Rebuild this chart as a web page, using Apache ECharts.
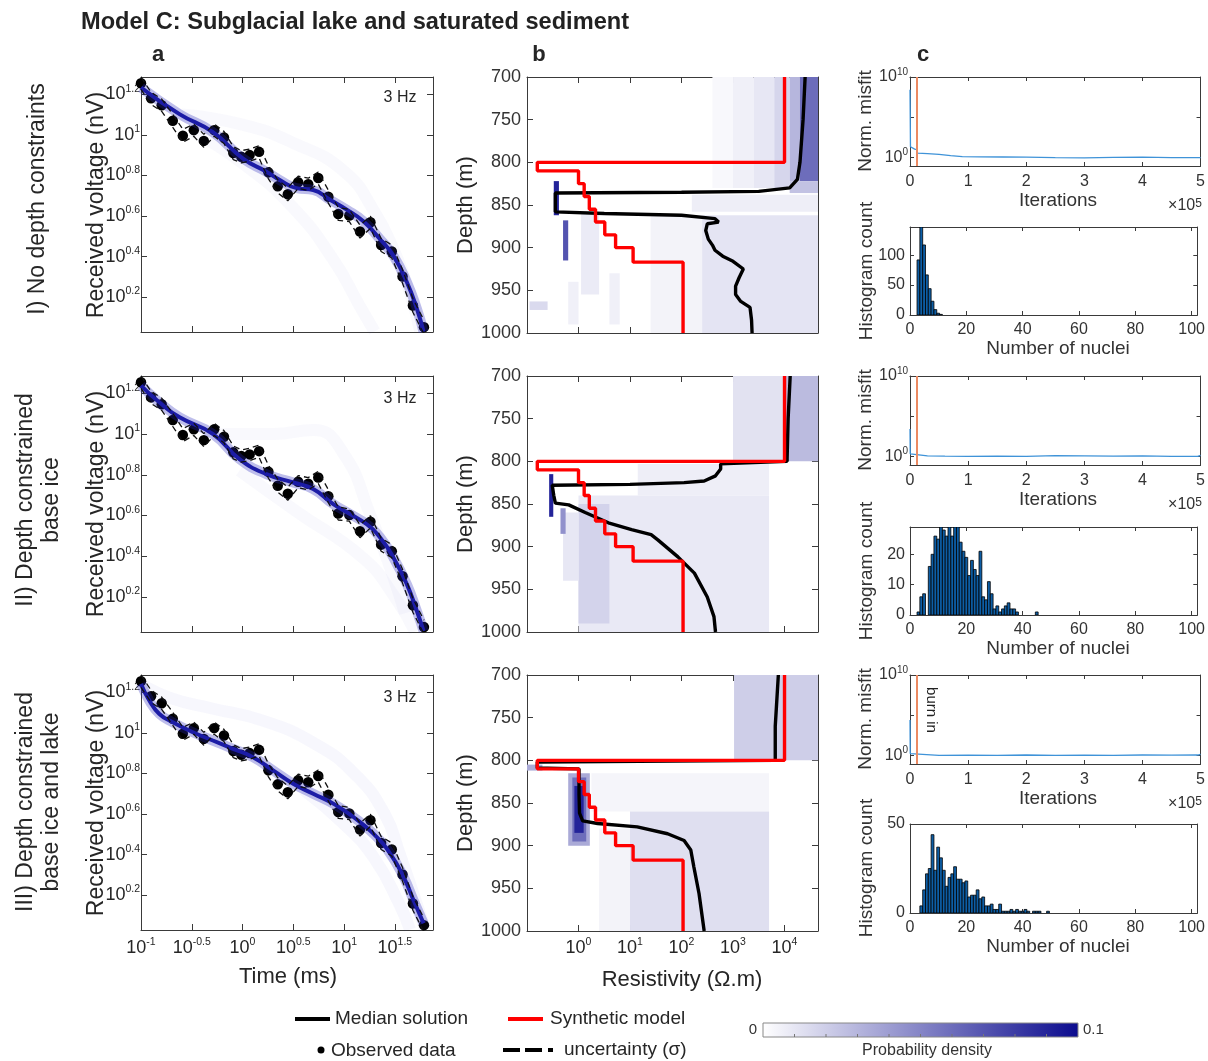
<!DOCTYPE html>
<html><head><meta charset="utf-8">
<script src="https://cdn.jsdelivr.net/npm/echarts@6/dist/echarts.min.js"></script>
<style>html,body{margin:0;padding:0;background:#fff}#c{width:1208px;height:1061px}</style>
</head><body><div id="c"></div>
<script>
// ---------------- DATA ----------------
// Column a: observed data (log10 time [ms], log10 voltage [nV]) – same in all rows
const obsLogT = [-1.0,-0.901,-0.796,-0.687,-0.588,-0.480,-0.381,-0.279,-0.183,-0.091,-0.012,0.070,0.163,0.255,0.347,0.446,0.548,0.647,0.746,0.845,0.943,1.052,1.157,1.260,1.365,1.470,1.576,1.678,1.787];
const obsLogV = [1.254,1.180,1.146,1.069,0.995,1.023,0.970,1.023,0.987,0.910,0.892,0.900,0.916,0.815,0.746,0.707,0.766,0.756,0.787,0.695,0.610,0.602,0.523,0.569,0.457,0.425,0.302,0.159,0.052];
const obsSigma = [0.030,0.030,0.030,0.032,0.032,0.030,0.032,0.030,0.030,0.032,0.030,0.030,0.030,0.032,0.032,0.032,0.030,0.030,0.030,0.032,0.032,0.030,0.032,0.030,0.032,0.032,0.034,0.034,0.034];
// posterior median predicted curves (log10 t, log10 V)
const predI   = [[-1.0,1.233],[-0.621,1.102],[-0.292,1.013],[0.005,0.883],[0.235,0.818],[0.367,0.777],[0.532,0.737],[0.696,0.728],[0.861,0.680],[1.026,0.631],[1.190,0.574],[1.355,0.485],[1.487,0.403],[1.619,0.273],[1.717,0.143],[1.783,0.029]];
const predII  = [[-1.0,1.238],[-0.82,1.156],[-0.62,1.082],[-0.29,1.0],[-0.03,0.877],[0.235,0.803],[0.5,0.762],[0.696,0.73],[0.894,0.656],[1.059,0.607],[1.223,0.557],[1.355,0.492],[1.487,0.393],[1.619,0.262],[1.717,0.131],[1.783,0.033]];
const predIII = [[-1.0,1.241],[-0.918,1.159],[-0.819,1.093],[-0.687,1.052],[-0.489,1.003],[-0.292,0.962],[-0.094,0.921],[0.103,0.880],[0.301,0.815],[0.499,0.749],[0.696,0.700],[0.894,0.651],[1.092,0.585],[1.289,0.503],[1.454,0.405],[1.586,0.290],[1.684,0.175],[1.783,0.061]];
// faint posterior sample curves
const fanI   = [[[-0.6,1.10],[0,1.05],[0.5,0.96],[1.0,0.82],[1.3,0.62],[1.5,0.42],[1.65,0.22],[1.75,0.03]],
                [[-0.5,1.02],[0,0.86],[0.5,0.64],[0.9,0.38],[1.15,0.16],[1.3,0.03]]];
const fanII  = [[[-0.3,1.0],[0.3,1.0],[0.7,1.02],[1.0,0.9],[1.26,0.6],[1.45,0.35],[1.6,0.12]],
                [[-0.03,0.82],[0.53,0.62],[1.19,0.39],[1.5,0.2],[1.7,0.03]]];
const fanIII = [[[-1,1.24],[-0.7,1.17],[-0.3,1.12],[0.2,1.06],[0.7,0.95],[1.1,0.8],[1.4,0.6],[1.55,0.4],[1.7,0.18],[1.8,0.03]],
                [[0.6,0.72],[1.0,0.55],[1.3,0.38],[1.55,0.15],[1.65,0.03]]];

// Column b: synthetic model layers (top depth m, log10 resistivity)
const synthTop    = [700, 800, 810, 825, 840, 855, 870, 885, 900, 917];
const synthLogRes = [4.0, -0.8, 0.0, 0.11, 0.21, 0.33, 0.51, 0.72, 1.06, 2.03];
// median solutions (log10 resistivity, depth)
const medianI = [[4.40,700],[4.36,750],[4.30,800],[4.25,820],[4.10,830],[3.5,834],[2.0,835],[-0.45,836],[-0.45,858],[0.5,860],[2.0,862],[2.65,866],[2.72,870],[2.50,872],[2.47,880],[2.52,890],[2.60,897],[2.65,903],[2.80,910],[3.00,916],[3.20,925],[3.12,935],[3.05,945],[3.05,955],[3.15,963],[3.33,970],[3.36,985],[3.37,1000]];
const medianII = [[4.11,700],[4.07,750],[4.05,797],[4.05,800],[2.76,803],[2.76,809],[2.66,817],[2.44,823],[2.05,825],[1.0,827],[-0.51,828],[-0.48,840],[-0.45,849],[-0.19,851],[0.13,860],[0.58,872],[1.03,880],[1.41,886],[1.54,892],[1.93,912],[2.25,931],[2.50,959],[2.63,982],[2.66,1000]];
const medianIII = [[3.88,700],[3.85,730],[3.82,760],[3.82,800],[-0.8,802],[-0.8,809],[0.01,810],[0.01,840],[0.02,862],[0.08,871],[0.37,874],[1.14,878],[1.73,886],[2.05,894],[2.18,905],[2.24,925],[2.34,956],[2.44,1000]];
// posterior probability density cells [logRes0, logRes1, depth0, depth1, density]
const densI = [
  [2.6,3.0,700,830,0.003],[3.0,3.4,700,830,0.006],[3.4,3.8,700,830,0.010],[3.8,4.1,700,830,0.017],[4.1,4.3,700,822,0.03],[4.3,4.65,700,822,0.06],[4.1,4.65,822,836,0.025],
  [2.2,4.65,838,858,0.007],[1.4,2.4,862,1000,0.005],[2.4,4.65,862,1000,0.011],
  [0.05,0.4,860,955,0.008],[0.6,0.8,930,990,0.006],[-0.2,0.0,940,990,0.006],[-0.95,-0.6,963,973,0.015],
  [-0.3,-0.2,868,915,0.07],[-0.48,-0.38,822,862,0.09]];
const densII = [
  [3.0,4.0,700,800,0.012],[4.0,4.65,700,800,0.028],[1.15,3.7,803,840,0.007],[0.0,3.7,840,1000,0.009],
  [0.0,0.6,850,990,0.018],[-0.3,0.0,860,940,0.01],[-0.35,-0.25,855,885,0.045],[-0.57,-0.49,815,865,0.09]];
const densIII = [
  [3.02,4.65,700,800,0.02],[-1.0,-0.7,805,812,0.035],[0.25,3.7,815,860,0.004],[0.4,1.0,880,1000,0.005],[1.0,3.7,860,1000,0.013],
  [-0.2,0.22,815,900,0.035],[-0.12,0.15,820,895,0.06],[-0.08,0.1,830,885,0.09]];

// Column c: misfit traces (iterations x1e5, log10 normalised misfit)
const itI   = [0,0.004,0.008,0.03,0.08,0.12,0.13,0.3,0.5,0.7,0.9,1.2,1.6,2.0,2.5,3.0,3.5,4.0,4.5,5.0];
const lmI   = [8.4,4.9,1.3,1.2,1.0,0.95,0.5,0.45,0.35,0.2,0.08,0.05,0.02,0.0,-0.05,-0.08,-0.03,0.0,-0.05,-0.05];
const itII  = [0,0.004,0.01,0.3,0.6,1.0,1.5,2.0,2.5,3.0,3.5,4.0,4.5,4.95,5.0];
const lmII  = [3.4,0.3,0.15,0.05,0.0,-0.03,0.0,-0.03,0.08,0.04,0.0,0.05,-0.02,-0.03,0.1];
const itIII = [0,0.004,0.01,0.5,1.0,1.5,2.0,2.5,3.0,3.5,4.0,4.5,4.95,5.0];
const lmIII = [4.4,0.2,0.05,-0.03,0.0,-0.02,0.02,-0.02,0.0,-0.03,0.02,0.0,0.02,0.1];
const burnIn = 0.12;
// histograms of number of nuclei
const binsI   = [3,4,5,6,7,8,9,10,11];
const countsI = [92,147,117,67,44,23,9,3,1];
const binsII   = [3,4,5,6,7,8,9,10,11,12,13,14,15,16,17,18,19,20,21,22,23,24,25,26,27,28,29,30,31,32,33,34,35,36,37,38,45];
const countsII = [1,6,7,0,16,20,26,25,29,28,26,29,26,29,29,24,21,19,13,18,15,13,21,6,5,11,7,2,3,1,2,3,4,2,2,1,1];
const binsIII   = [4,5,6,7,8,9,10,11,12,13,14,15,16,17,18,19,20,21,22,23,24,25,26,27,28,29,30,31,32,33,34,35,36,37,38,39,40,41,42,44,45,46,49];
const countsIII = [4,13,22,25,44,24,37,31,24,15,20,22,26,19,19,17,18,9,10,10,13,8,9,4,4,5,2,2,5,1,1,1,2,1,2,1,1,2,1,1,1,1,1];

// tick values
const tTicks = [-1,-0.5,0,0.5,1,1.5];
const vTicks = [0.2,0.4,0.6,0.8,1.0,1.2];
const rTicks = [0,1,2,3,4];
const dTicks = [700,750,800,850,900,950,1000];
const itTicks = [0,1,2,3,4,5];
const nTicks = [0,20,40,60,80,100];

// ---------------- LAYOUT / STYLE ----------------
const FONT = '"Liberation Sans", Arial, Helvetica, sans-serif';
const INK = '#262626';
const AX = '#3a3a3a';
const boxes = [
  [141,77,292,255],[141,376,292,256],[141,675,292,255],
  [527,77,291,256],[527,376,291,256],[527,675,291,256],
  [910,77,293,89],[910,227,293,88],
  [910,376,293,89],[910,527,293,88],
  [910,675,293,89],[910,824,293,89]
];
const grid = boxes.map(b => ({left:b[0], top:b[1], width:b[2], height:b[3], containLabel:false}));

function expStr(v){ const e = Math.round(v*10)/10; return String(e); }
function supRich(fs, sfs){
  return { b:{fontSize:fs, fontFamily:FONT, color:INK, padding:[2,0,2,0]},
           s:{fontSize:sfs, fontFamily:FONT, color:INK, verticalAlign:'top'} };
}
const supFmt = v => '{b|10}{s|' + expStr(v) + '}';

const xAxes = [], yAxes = [];
function addAxes(list, kind, gi, c){
  const base = {type:'value', gridIndex:gi, min:c.min, max:c.max, inverse:!!c.inverse,
    axisLine:{show:true, onZero:false, lineStyle:{color:AX, width:1}},
    axisTick:{show:true, inside:true, length:c.tl||5, customValues:c.ticks, lineStyle:{color:AX, width:1}},
    splitLine:{show:false}};
  const main = Object.assign({}, base, {position: kind==='x'?'bottom':'left',
    axisLabel:{show:!!c.show, customValues:c.labels||c.ticks, formatter:c.fmt||(v=>String(v)), margin:c.margin||4,
      fontSize:c.fs||16, color:c.color||INK, fontFamily:FONT, rich:c.rich}});
  const sec = Object.assign({}, base, {position: kind==='x'?'top':'right', axisLabel:{show:false}});
  list.push(main, sec);
}
// column a
for (let r=0;r<3;r++){
  addAxes(xAxes,'x',r,{min:-1,max:1.876,ticks:tTicks,show:r===2,fmt:supFmt,rich:supRich(18,10.5),margin:7,tl:6});
  addAxes(yAxes,'y',r,{min:0.028,max:1.285,ticks:vTicks,show:true,fmt:supFmt,rich:supRich(18,10.5),margin:1,tl:6});
}
// column b
for (let r=0;r<3;r++){
  addAxes(xAxes,'x',3+r,{min:-1,max:4.65,ticks:rTicks,show:r===2,fmt:supFmt,rich:supRich(18,10.5),margin:6,tl:6});
  addAxes(yAxes,'y',3+r,{min:700,max:1000,inverse:true,ticks:dTicks,show:true,fs:18,margin:6,tl:6,color:'#333'});
}
// column c
const histMax = [147,29,50], histTicks=[[0,50,100],[0,10,20],[0,50]];
for (let r=0;r<3;r++){
  const gm = 6+2*r, gh = 7+2*r;
  addAxes(xAxes,'x',gm,{min:0,max:5,ticks:itTicks,show:true,fs:16,margin:8,tl:4,color:'#333'});
  addAxes(yAxes,'y',gm,{min:-1.1,max:10,ticks:[0,5,10],labels:[0,10],show:true,fmt:v=>'{b|10}{s|'+v+'}',
     rich:{b:{fontSize:16,fontFamily:FONT,color:'#333',padding:[2,0,2,0]},s:{fontSize:10,fontFamily:FONT,color:'#333',verticalAlign:'top'}},margin:2,tl:4});
  addAxes(xAxes,'x',gh,{min:0,max:102,ticks:nTicks,show:true,fs:16,margin:7,tl:4,color:'#333'});
  addAxes(yAxes,'y',gh,{min:0,max:histMax[r],ticks:histTicks[r],show:true,fs:16,margin:5,tl:4,color:'#333'});
}

// ---------------- SERIES ----------------
const series = [];
const densIdx = [];
const ax = gi => ({xAxisIndex:2*gi, yAxisIndex:2*gi});
const preds = [predI,predII,predIII], fans=[fanI,fanII,fanIII];
const fanAlpha = [0.03,0.03,0.045];
for (let r=0;r<3;r++){
  fans[r].forEach(f => series.push(Object.assign({type:'line', data:f, smooth:true, symbol:'none', silent:true,
     lineStyle:{color:'rgba(70,70,200,'+fanAlpha[r]+')', width:12}}, ax(r))));
  series.push(Object.assign({type:'line', data:preds[r], smooth:true, symbol:'none', lineStyle:{color:'rgba(40,40,190,0.30)', width:10}}, ax(r)));
  series.push(Object.assign({type:'line', data:preds[r], smooth:true, symbol:'none', lineStyle:{color:'#1c1ca6', width:4}}, ax(r)));
  series.push(Object.assign({type:'line', data:obsLogT.map((t,i)=>[t, obsLogV[i]+obsSigma[i]]), symbol:'none',
     lineStyle:{color:'#111', width:1.3, type:[6,4]}}, ax(r)));
  series.push(Object.assign({type:'line', data:obsLogT.map((t,i)=>[t, obsLogV[i]-obsSigma[i]]), symbol:'none',
     lineStyle:{color:'#111', width:1.3, type:[6,4]}}, ax(r)));
  series.push(Object.assign({type:'scatter', data:obsLogT.map((t,i)=>[t, obsLogV[i]]), symbolSize:10.5, clip:false,
     itemStyle:{color:'#000', opacity:1}}, ax(r)));
}
// column b
function synthLine(){
  const pts = [];
  for (let i=0;i<synthTop.length;i++){
    const bottom = i+1<synthTop.length ? synthTop[i+1] : 1000;
    pts.push([synthLogRes[i], synthTop[i]], [synthLogRes[i], bottom]);
  }
  return pts;
}
const dens=[densI,densII,densIII], meds=[medianI,medianII,medianIII];
for (let r=0;r<3;r++){
  const gi = 3+r;
  densIdx.push(series.length);
  series.push(Object.assign({type:'custom', data:dens[r], encode:{x:[0,1], y:[2,3]}, clip:true,
    renderItem:(p, api)=>{
      const a = api.coord([api.value(0), api.value(2)]), b = api.coord([api.value(1), api.value(3)]);
      return {type:'rect', shape:{x:Math.min(a[0],b[0]), y:Math.min(a[1],b[1]), width:Math.abs(b[0]-a[0]), height:Math.abs(b[1]-a[1])},
              style:{fill: api.visual('color')}};
    }}, ax(gi)));
  series.push(Object.assign({type:'line', data:meds[r], symbol:'none', lineStyle:{color:'#000', width:3.4}}, ax(gi)));
  series.push(Object.assign({type:'line', data:synthLine(), symbol:'none', lineStyle:{color:'#ff0000', width:3.4}}, ax(gi)));
}
// column c
const its=[itI,itII,itIII], lms=[lmI,lmII,lmIII], bins=[binsI,binsII,binsIII], cnts=[countsI,countsII,countsIII];
for (let r=0;r<3;r++){
  const gm = 6+2*r, gh = 7+2*r;
  series.push(Object.assign({type:'line', data:its[r].map((v,i)=>[v, lms[r][i]]), symbol:'none', lineStyle:{color:'#3f93d8', width:1.3}}, ax(gm)));
  series.push(Object.assign({type:'line', data:[[burnIn,-1.1],[burnIn,10]], symbol:'none', lineStyle:{color:'#ec8a62', width:2}}, ax(gm)));
  series.push(Object.assign({type:'custom', data:bins[r].map((b,i)=>[b, cnts[r][i]]), encode:{x:0, y:1}, clip:true,
    renderItem:(p, api)=>{
      const x = api.value(0), c = api.value(1);
      if (!c) return null;
      const a = api.coord([x-0.5, c]), b = api.coord([x+0.5, 0]);
      return {type:'rect', shape:{x:a[0], y:a[1], width:b[0]-a[0], height:b[1]-a[1]},
              style:{fill:'#0d5ea6', stroke:'#000', lineWidth:0.8}};
    }}, ax(gh)));
}

// ---------------- TEXT / LEGEND ----------------
const G = [];
function txt(x,y,text,o){
  o = o||{};
  G.push({type:'text', x, y, rotation:o.rot||0, z:100,
    style:{text, fontSize:o.fs||16, fontFamily:o.ff||FONT, fontWeight:o.fw||'normal', fill:o.fill||INK,
      textAlign:o.align||'center', textVerticalAlign:'middle', lineHeight:o.lh, rich:o.rich}});
}
txt(81,22,'Model C: Subglacial lake and saturated sediment',{fs:23.6,fw:'bold',align:'left',fill:'#222'});
txt(158,55,'a',{fs:22,fw:'bold'}); txt(539,55,'b',{fs:22,fw:'bold'}); txt(923,55,'c',{fs:22,fw:'bold'});
txt(38,199,'I) No depth constraints',{fs:23,rot:Math.PI/2});
txt(39,500,'II) Depth constrained\nbase ice',{fs:23,rot:Math.PI/2,lh:26});
txt(39,802,'III) Depth constrained\nbase ice and lake',{fs:23,rot:Math.PI/2,lh:26});
const rowMid = [205,504,803];
for (let r=0;r<3;r++){
  txt(97,rowMid[r],'Received voltage (nV)',{fs:23,rot:Math.PI/2});
  txt(466,rowMid[r],'Depth (m)',{fs:22,rot:Math.PI/2});
  txt(400,[98,399,698][r],'3 Hz',{fs:16});
  const mm = [121,420,719][r], hm=[271,571,868][r];
  txt(866,mm,'Norm. misfit',{fs:19,rot:Math.PI/2,fill:'#333'});
  txt(867,hm,'Histogram count',{fs:19,rot:Math.PI/2,fill:'#333'});
  txt(1058,[201,500,799][r],'Iterations',{fs:19,fill:'#333'});
  txt(1058,[349,649,947][r],'Number of nuclei',{fs:19,fill:'#333'});
  txt(1185,[206,505,804][r],'×10{s|5}',{fs:16,fill:'#333',rich:{s:{fontSize:12,fontFamily:FONT,fill:'#333',verticalAlign:'top'}}});
}
txt(288,977,'Time (ms)',{fs:22});
txt(682,980,'Resistivity (Ω.m)',{fs:22});
txt(931,710,'burn in',{fs:15,rot:-Math.PI/2,fill:'#222'});
// legend
G.push({type:'line', shape:{x1:295,y1:1019,x2:330,y2:1019}, style:{stroke:'#000', lineWidth:4}});
txt(335,1019,'Median solution',{fs:19,align:'left'});
G.push({type:'line', shape:{x1:508,y1:1019,x2:543,y2:1019}, style:{stroke:'#ff0000', lineWidth:4}});
txt(550,1019,'Synthetic model',{fs:19,align:'left'});
G.push({type:'circle', shape:{cx:321,cy:1050,r:3.5}, style:{fill:'#000'}});
txt(331,1051,'Observed data',{fs:19,align:'left'});
G.push({type:'line', shape:{x1:503,y1:1050,x2:556,y2:1050}, style:{stroke:'#000', lineWidth:4, lineDash:[17,5,17,6,5,50]}});
txt(564,1050,'uncertainty (σ)',{fs:19,align:'left'});
// colorbar
G.push({type:'rect', shape:{x:763,y:1023,width:315,height:14},
  style:{fill:{type:'linear',x:0,y:0,x2:1,y2:0,colorStops:[{offset:0,color:'#ffffff'},{offset:1,color:'#0b0b8e'}]}, stroke:'#888', lineWidth:1}});
for (let k=1;k<10;k++){ const x = 763+315*k/10; G.push({type:'line', shape:{x1:x,y1:1037,x2:x,y2:1034}, style:{stroke:'#777', lineWidth:1}}); }
txt(757,1030,'0',{fs:15,align:'right',fill:'#333'});
txt(1083,1030,'0.1',{fs:15,align:'left',fill:'#333'});
txt(927,1051,'Probability density',{fs:16,fill:'#333'});

const option = {
  backgroundColor:'#ffffff', animation:false,
  grid, xAxis:xAxes, yAxis:yAxes, series,
  visualMap:{type:'continuous', show:false, min:0, max:0.1, dimension:4, seriesIndex:densIdx,
    inRange:{color:['#ffffff','#0b0b8e']}},
  graphic:G
};
const chart = echarts.init(document.getElementById('c'), null, {renderer:'canvas'});
chart.setOption(option);
</script></body></html>
